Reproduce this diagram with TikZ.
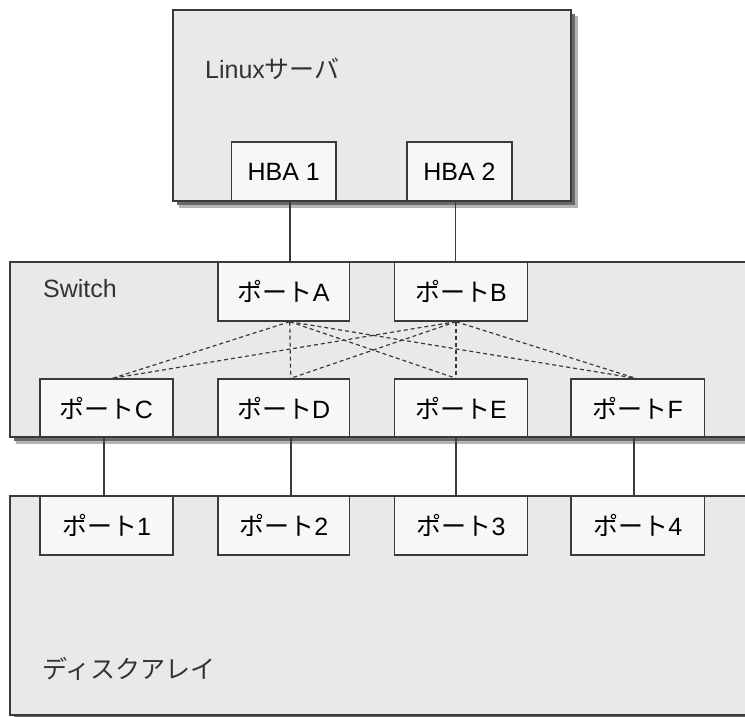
\documentclass[tikz,border=0pt]{standalone}
\usepackage{fontspec}
\setmainfont{Liberation Sans}
\newfontfamily\cjk{Noto Sans CJK JP}
\definecolor{panel}{HTML}{E9E9E9}
\definecolor{portfill}{HTML}{F7F7F7}
\definecolor{edge}{HTML}{3A3A3A}
\definecolor{shadowdark}{HTML}{6A6A6A}
\definecolor{shadowlight}{HTML}{B4B4B4}

\tikzset{
  panelbox/.style={draw=edge, line width=1.5pt, fill=panel},
  portbox/.style={draw=edge, line width=1.4pt, fill=portfill, rectangle,
    inner sep=0pt, minimum height=59pt, font=\fontsize{25}{30}\selectfont},
  label/.style={inner sep=0pt, font=\fontsize{25}{30}\selectfont, text=black!80},
  wire/.style={draw=edge, line width=1.7pt},
  cross/.style={draw=edge, line width=1.2pt, dash pattern=on 4pt off 3pt},
}

\newcommand{\dropshadow}[4]{%
  \fill[shadowlight] (#1+6,#2+6) rectangle (#3+7,#4+7);
  \fill[shadowdark] (#1+4,#2+4) rectangle (#3+4,#4+4);
}

\begin{document}
\begin{tikzpicture}[x=1pt,y=-1pt]
  \useasboundingbox[fill=white] (0,0) rectangle (745,717);

  % enclosures with drop shadows
  \dropshadow{173}{10}{571}{201}
  \path[panelbox] (173,10) rectangle (571,201);
  \dropshadow{10}{262}{760}{437}
  \path[panelbox] (10,262) rectangle (760,437);
  \dropshadow{10}{496}{760}{715}
  \path[panelbox] (10,496) rectangle (760,715);

  % enclosure labels
  \node[label, anchor=base west] (srvlabel) at (205,78) {Linux{\cjk サーバ}};
  \node[label, anchor=base west] (swlabel) at (43,297) {Switch};
  \node[label, anchor=west] (arrlabel) at (42,669) {\cjk ディスクアレイ};

  % host bus adapters
  \node[portbox, minimum width=104.5pt] (hba1) at (283.8,171.5) {HBA 1};
  \node[portbox, minimum width=105pt] (hba2) at (459.5,171.5) {HBA 2};

  % switch ports
  \node[portbox, minimum width=131.5pt] (pa) at (283.75,291.5) {{\cjk ポート}A};
  \node[portbox, minimum width=133pt] (pb) at (461,291.5) {{\cjk ポート}B};
  \node[portbox, minimum width=133pt, minimum height=58pt] (pc) at (106.5,408) {{\cjk ポート}C};
  \node[portbox, minimum width=131.5pt, minimum height=58pt] (pd) at (283.75,408) {{\cjk ポート}D};
  \node[portbox, minimum width=133pt, minimum height=58pt] (pe) at (461,408) {{\cjk ポート}E};
  \node[portbox, minimum width=133.5pt, minimum height=58pt] (pf) at (637.75,408) {{\cjk ポート}F};

  % storage ports
  \node[portbox, minimum width=133pt] (p1) at (106.5,525.5) {{\cjk ポート}1};
  \node[portbox, minimum width=131.5pt] (p2) at (283.75,525.5) {{\cjk ポート}2};
  \node[portbox, minimum width=133pt] (p3) at (461,525.5) {{\cjk ポート}3};
  \node[portbox, minimum width=133.5pt] (p4) at (637.75,525.5) {{\cjk ポート}4};

  % host to switch links
  \draw[wire] ([xshift=6pt]hba1.south) -- ([xshift=6pt]hba1.south |- pa.north);
  \draw[wire] ([xshift=-4pt]hba2.south) -- ([xshift=-4pt]hba2.south |- pb.north);

  % switch to storage links
  \draw[wire] ([xshift=-2.5pt]pc.south) -- ([xshift=-2.5pt]pc.south |- p1.north);
  \draw[wire] ([xshift=7pt]pd.south) -- ([xshift=7pt]pd.south |- p2.north);
  \draw[wire] ([xshift=-5pt]pe.south) -- ([xshift=-5pt]pe.south |- p3.north);
  \draw[wire] ([xshift=-3.5pt]pf.south) -- ([xshift=-3.5pt]pf.south |- p4.north);

  % internal switch fabric
  \coordinate (aS) at ([xshift=6pt]pa.south);
  \coordinate (bS) at ([xshift=-5pt]pb.south);
  \coordinate (cN) at ([xshift=6pt]pc.north);
  \coordinate (dN) at ([xshift=7pt]pd.north);
  \coordinate (eN) at ([xshift=-5pt]pe.north);
  \coordinate (fN) at ([xshift=-2pt]pf.north);
  \foreach \t in {cN,dN,eN,fN} {
    \draw[cross] (aS) -- (\t);
    \draw[cross] (bS) -- (\t);
  }
\end{tikzpicture}
\end{document}
